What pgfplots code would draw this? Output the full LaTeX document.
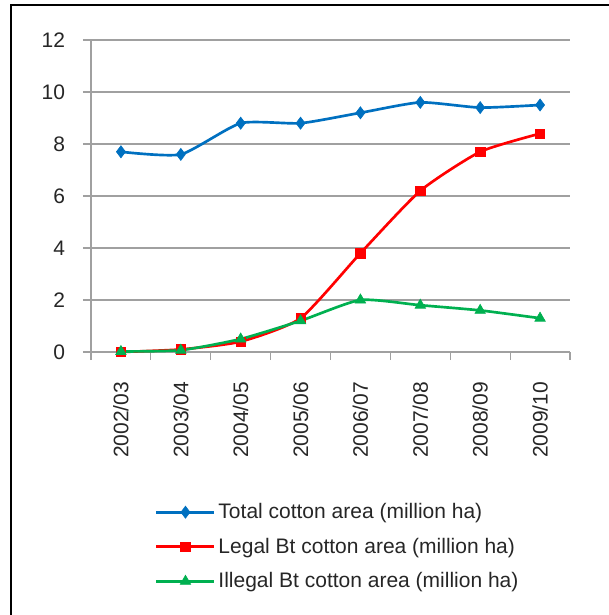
\documentclass[border=0pt]{standalone}
\usepackage{pgfplots}
\pgfplotsset{compat=1.18}
\usepackage{fontspec}
\setmainfont{Liberation Sans}
\definecolor{cblue}{RGB}{0,112,192}
\definecolor{cred}{RGB}{255,0,0}
\definecolor{cgreen}{RGB}{0,176,80}
\definecolor{gridgray}{RGB}{160,160,160}
\begin{document}
\begin{tikzpicture}
\useasboundingbox (0pt,0pt) rectangle (456.75pt,461.25pt);
\draw[black,line width=1.8pt] (8.25pt,0pt) -- (8.25pt,457.5pt) -- (456.75pt,457.5pt);
\begin{axis}[
  at={(68.25pt,197.25pt)}, anchor=south west,
  scale only axis, width=359.25pt, height=234pt,
  xmin=-0.5, xmax=7.5, ymin=0, ymax=12,
  axis x line*=bottom, axis y line*=left,
  axis line style={gridgray, line width=0.8pt},
  xtick={0,...,7},
  xticklabels={2002/03,2003/04,2004/05,2005/06,2006/07,2007/08,2008/09,2009/10},
  minor xtick={-0.5,0.5,...,7.5},
  ytick={0,2,...,12},
  tick align=outside,
  major tick length=6pt, minor tick length=6pt,
  x tick style={draw=none},
  minor x tick style={draw=gridgray, line width=0.8pt},
  y tick style={draw=gridgray, line width=0.8pt},
  ymajorgrids, grid style={gridgray, line width=0.8pt},
  tick label style={font=\fontsize{15.75}{18}\selectfont, text=black!85},
  /pgf/number format/assume math mode=true,
  yticklabel style={xshift=-10pt},
  xticklabel style={rotate=90, anchor=east, xshift=-13pt},
  clip=false,
  legend style={at={(0.125,-0.468)}, anchor=north west, draw=none, fill=none,
    font=\fontsize{15.75}{18}\selectfont, text=black!85, row sep=9pt, cells={anchor=west}},
  legend cell align=left,
  legend image code/.code={\draw[#1,mark repeat=2,mark phase=2] plot coordinates {(0pt,0pt) (21.75pt,0pt) (43.5pt,0pt)};},
]
\addplot[cblue, line width=2pt, smooth, tension=0.35, mark=diamond*, mark size=4.5pt, mark options={solid, fill=cblue, line width=0.5pt}]
 coordinates {(0,7.7) (1,7.6) (2,8.8) (3,8.8) (4,9.2) (5,9.6) (6,9.4) (7,9.5)};
\addlegendentry{Total cotton area (million ha)}
\addplot[cred, line width=2pt, smooth, tension=0.35, mark=square*, mark size=3.5pt, mark options={solid, fill=cred, line width=0.5pt}]
 coordinates {(0,0) (1,0.1) (2,0.4) (3,1.3) (4,3.8) (5,6.2) (6,7.7) (7,8.4)};
\addlegendentry{Legal Bt cotton area (million ha)}
\addplot[cgreen, line width=2pt, smooth, tension=0.35, mark=triangle*, mark size=4.5pt, mark options={solid, fill=cgreen, line width=0.5pt}]
 coordinates {(0,0.02) (1,0.07) (2,0.5) (3,1.2) (4,2.0) (5,1.8) (6,1.6) (7,1.3)};
\addlegendentry{Illegal Bt cotton area (million ha)}
\end{axis}
\end{tikzpicture}
\end{document}
